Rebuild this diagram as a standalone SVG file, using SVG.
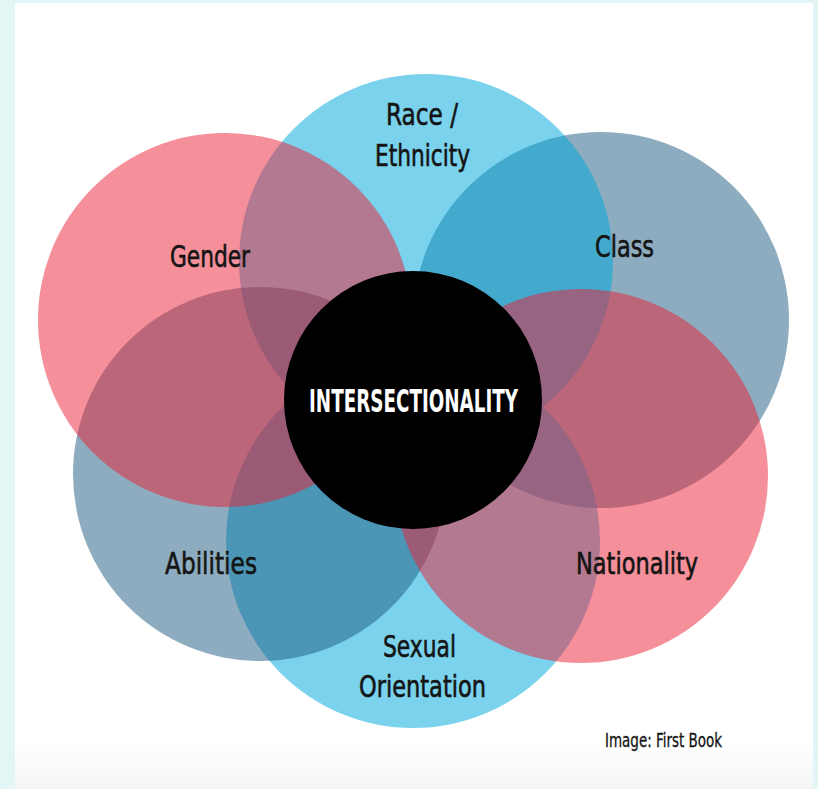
<svg xmlns="http://www.w3.org/2000/svg" width="818" height="789" viewBox="0 0 818 789">
  <defs>
    <linearGradient id="bottomFade" x1="0" y1="0" x2="0" y2="1">
      <stop offset="0" stop-color="#ffffff"/>
      <stop offset="1" stop-color="#f3f4f4"/>
    </linearGradient>
    <style>
      .pink { fill: #eb1f36; fill-opacity: 0.5; }
      .cyan { fill: #00a8dc; fill-opacity: 0.52; }
      .slate { fill: #1b5a80; fill-opacity: 0.5; }
      .lbl { font-family: "DejaVu Sans Condensed", "Liberation Sans", sans-serif; font-size: 31px; fill: #141414; stroke: #141414; stroke-width: 0.6px; text-anchor: middle; }
      .core { font-family: "DejaVu Sans Condensed", "Liberation Sans", sans-serif; font-size: 32px; font-weight: bold; fill: #ffffff; text-anchor: middle; }
      .credit { font-family: "DejaVu Sans Condensed", "Liberation Sans", sans-serif; font-size: 19px; fill: #141414; stroke: #141414; stroke-width: 0.3px; }
    </style>
  </defs>

  <rect x="0" y="0" width="818" height="789" fill="#e4f5f6"/>
  <rect x="15" y="3" width="798" height="786" fill="#ffffff"/>
  <rect x="15" y="745" width="798" height="44" fill="url(#bottomFade)"/>

  <g id="class"><circle class="slate" cx="601" cy="320" r="188"/></g>
  <g id="sexual-orientation"><circle class="cyan" cx="413" cy="541" r="187"/></g>
  <g id="race-ethnicity"><circle class="cyan" cx="426" cy="261" r="187"/></g>
  <g id="abilities"><circle class="slate" cx="260" cy="474" r="187"/></g>
  <g id="gender"><circle class="pink" cx="225" cy="320" r="187"/></g>
  <g id="nationality"><circle class="pink" cx="581" cy="476" r="187"/></g>

  <g id="intersectionality">
    <circle cx="413" cy="400" r="129" fill="#000000"/>
    <text class="core" x="413.5" y="412" textLength="209" lengthAdjust="spacingAndGlyphs">INTERSECTIONALITY</text>
  </g>

  <g id="labels">
    <text class="lbl" x="422" y="125" textLength="72" lengthAdjust="spacingAndGlyphs">Race /</text>
    <text class="lbl" x="422.5" y="166" textLength="95" lengthAdjust="spacingAndGlyphs">Ethnicity</text>
    <text class="lbl" x="210" y="267" textLength="80" lengthAdjust="spacingAndGlyphs">Gender</text>
    <text class="lbl" x="624.5" y="257" textLength="59" lengthAdjust="spacingAndGlyphs">Class</text>
    <text class="lbl" x="211" y="574" textLength="92" lengthAdjust="spacingAndGlyphs">Abilities</text>
    <text class="lbl" x="637" y="574" textLength="122" lengthAdjust="spacingAndGlyphs">Nationality</text>
    <text class="lbl" x="419.5" y="657" textLength="73" lengthAdjust="spacingAndGlyphs">Sexual</text>
    <text class="lbl" x="422.5" y="697" textLength="127" lengthAdjust="spacingAndGlyphs">Orientation</text>
  </g>

  <g id="connectors"></g>

  <text class="credit" x="605" y="747" textLength="117" lengthAdjust="spacingAndGlyphs">Image: First Book</text>
</svg>
